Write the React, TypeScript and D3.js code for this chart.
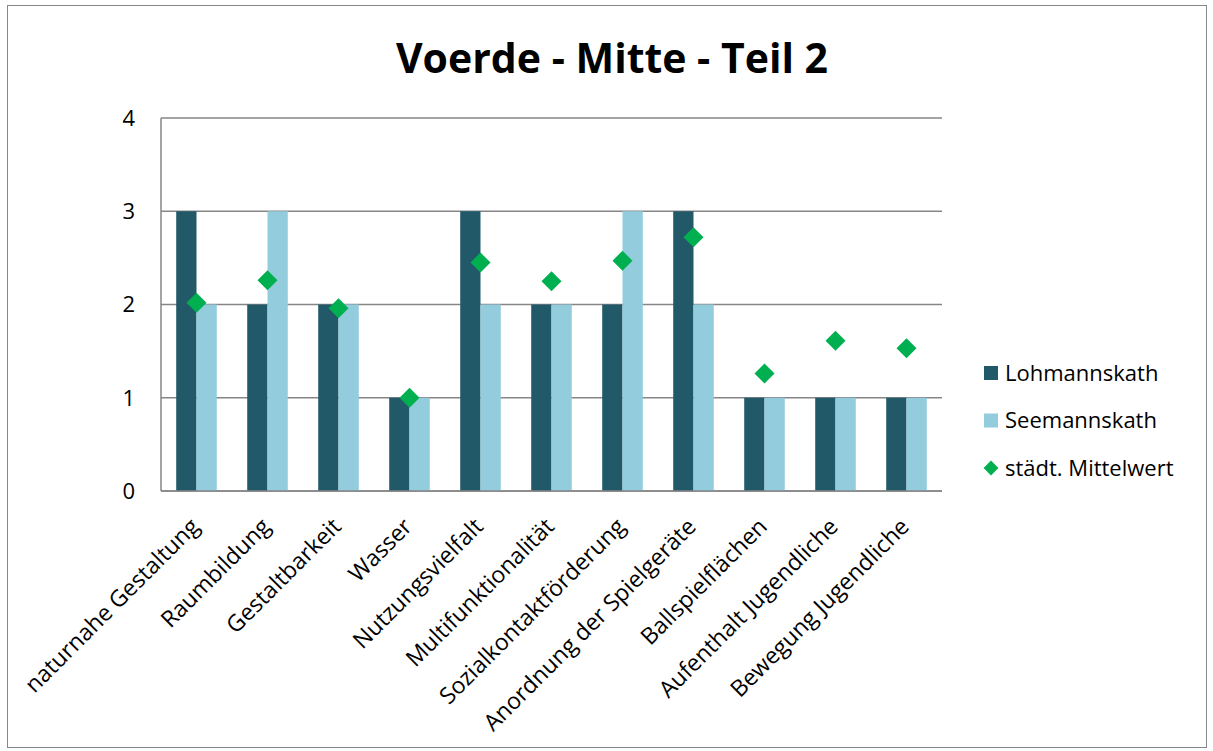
import React from "react";
import * as d3 from "d3";

const categories = [
  "naturnahe Gestaltung",
  "Raumbildung",
  "Gestaltbarkeit",
  "Wasser",
  "Nutzungsvielfalt",
  "Multifunktionalität",
  "Sozialkontaktförderung",
  "Anordnung der Spielgeräte",
  "Ballspielflächen",
  "Aufenthalt Jugendliche",
  "Bewegung Jugendliche",
];
const lohmannskath = [3, 2, 2, 1, 3, 2, 2, 3, 1, 1, 1];
const seemannskath = [2, 3, 2, 1, 2, 2, 3, 2, 1, 1, 1];
const mittelwert = [2.02, 2.26, 1.96, 1.0, 2.45, 2.25, 2.47, 2.72, 1.26, 1.61, 1.53];
const yTicks = [0, 1, 2, 3, 4];
const seriesNames = ["Lohmannskath", "Seemannskath", "städt. Mittelwert"];

const W = 1213;
const H = 751;
const FONT = "'Open Sans', sans-serif";
const DARK = "#215968";
const LIGHT = "#93CDDD";
const GREEN = "#00B050";

export default function App() {
  const left = 161, right = 942, top = 118, bottom = 491;
  const x = d3.scaleBand<number>().domain(d3.range(categories.length)).range([left, right]).paddingInner(0).paddingOuter(0);
  const y = d3.scaleLinear().domain([0, 4]).range([bottom, top]);
  const band = x.bandwidth();
  const groupW = band * 2 / 3.5;
  const barW = groupW / 2;
  const diamond = d3.symbol().type(d3.symbolSquare).size(200)()!;
  const legendDiamond = d3.symbol().type(d3.symbolSquare).size(110)()!;

  return (
    <svg width={W} height={H} style={{ position: "absolute", left: 0, top: 0, fontFamily: FONT }}>
      <rect x={0} y={0} width={W} height={H} fill="#fff" />
      <rect x={7.5} y={5.5} width={1199} height={742} fill="none" stroke="#878787" strokeWidth={1} />
      <text x={612} y={73} textAnchor="middle" fontSize={41} fontWeight="bold" fill="#000">
        Voerde - Mitte - Teil 2
      </text>
      {yTicks.map((t) => (
        <g key={t}>
          <line x1={left} x2={right} y1={y(t)} y2={y(t)} stroke="#868686" strokeWidth={1.5} />
          <text x={135} y={y(t)} dy="0.36em" textAnchor="end" fontSize={22} fill="#000">{t}</text>
        </g>
      ))}
      <line x1={left} x2={left} y1={top} y2={bottom} stroke="#868686" strokeWidth={1.5} />
      {categories.map((c, i) => {
        const cx = x(i)! + band / 2;
        return (
          <g key={c}>
            <rect x={cx - barW} y={y(lohmannskath[i])} width={barW} height={bottom - y(lohmannskath[i])} fill={DARK} />
            <rect x={cx} y={y(seemannskath[i])} width={barW} height={bottom - y(seemannskath[i])} fill={LIGHT} />
          </g>
        );
      })}
      <line x1={left} x2={right} y1={bottom} y2={bottom} stroke="#868686" strokeWidth={1.5} />
      {categories.map((c, i) => {
        const cx = x(i)! + band / 2;
        return (
          <path key={"d" + i} d={diamond} transform={`translate(${cx},${y(mittelwert[i])}) rotate(45)`} fill={GREEN} />
        );
      })}
      {categories.map((c, i) => {
        const cx = x(i)! + band / 2;
        return (
          <text key={"l" + i} transform={`translate(${cx + 4},${bottom + 37}) rotate(-45)`} textAnchor="end" fontSize={23} fill="#000">
            {c}
          </text>
        );
      })}
      {seriesNames.map((s, i) => {
        const ly = 373 + i * 47.5;
        return (
          <g key={s}>
            {i < 2 ? (
              <rect x={984} y={ly - 7} width={14} height={14} fill={i === 0 ? DARK : LIGHT} />
            ) : (
              <path d={legendDiamond} transform={`translate(991,${ly}) rotate(45)`} fill={GREEN} />
            )}
            <text x={1005} y={ly} dy="0.36em" fontSize={22} fill="#000">{s}</text>
          </g>
        );
      })}
    </svg>
  );
}
